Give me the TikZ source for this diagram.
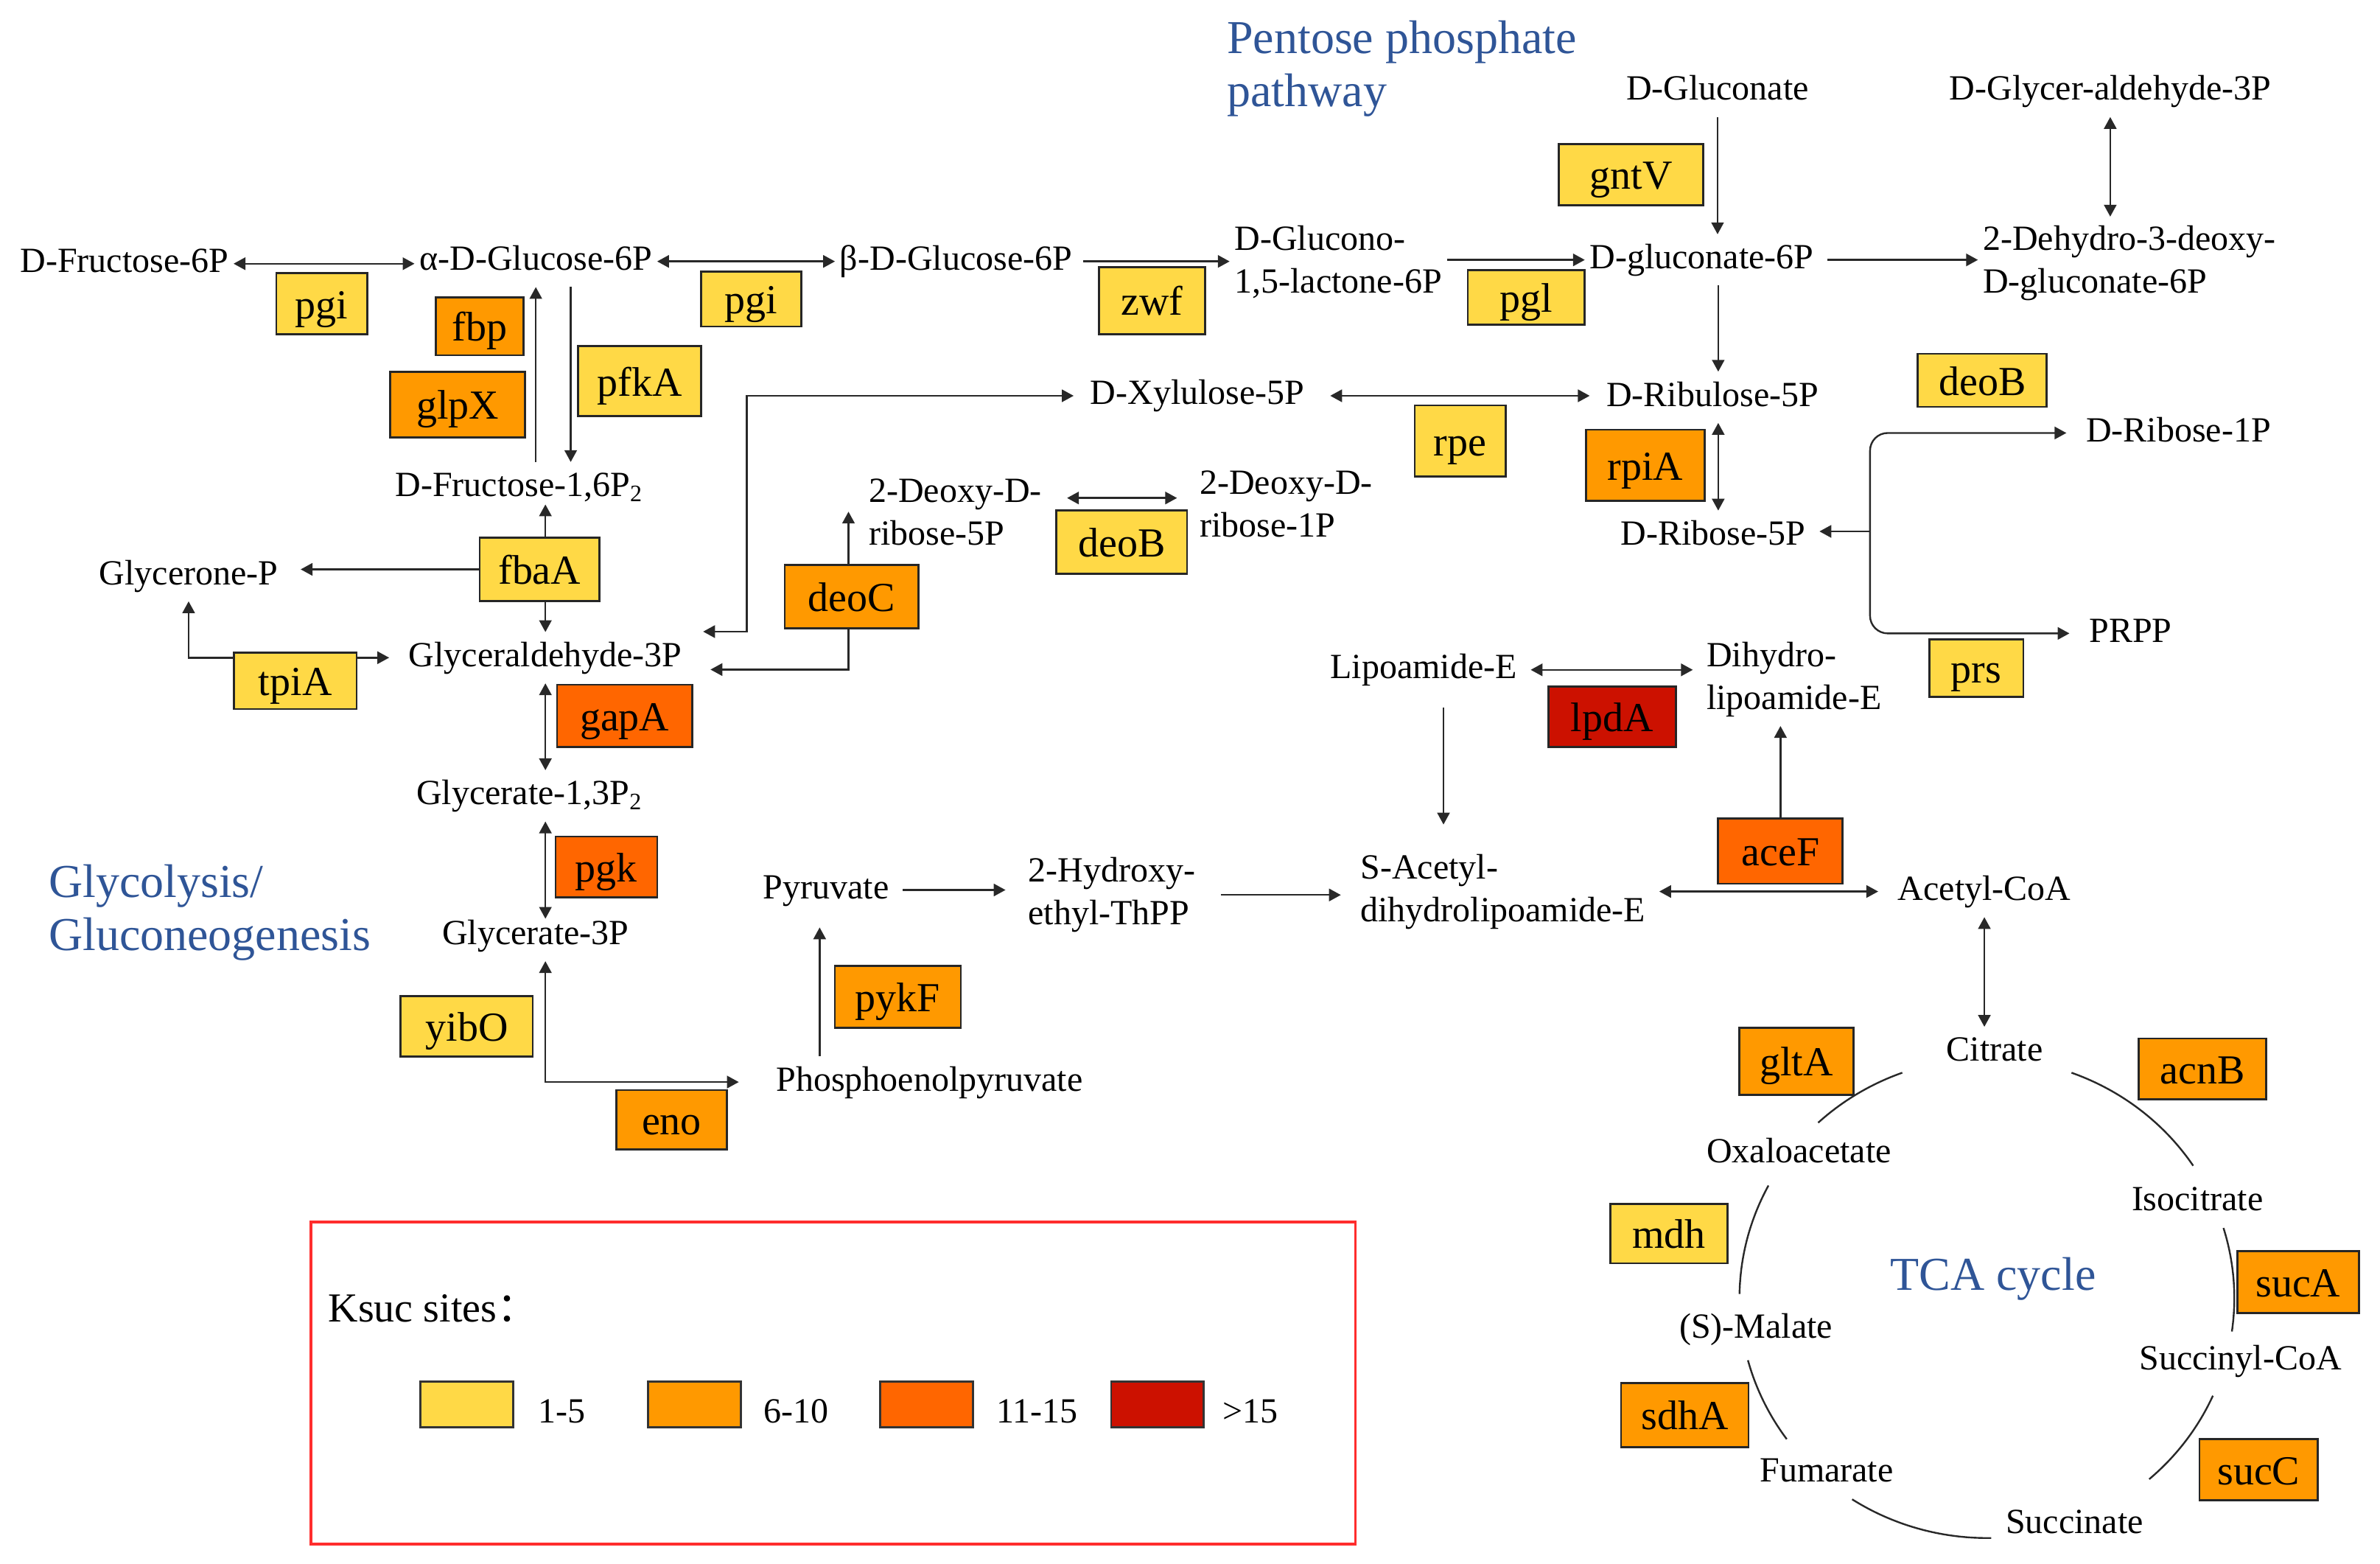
\documentclass[tikz,border=0pt]{standalone}
\usepackage{fontspec}
\setmainfont{Liberation Serif}
\newfontfamily\cjk{Noto Sans CJK SC}
\usetikzlibrary{arrows.meta,backgrounds}
\definecolor{cY}{RGB}{255,217,70}
\definecolor{cO}{RGB}{255,153,0}
\definecolor{cD}{RGB}{255,102,0}
\definecolor{cR}{RGB}{204,17,0}
\definecolor{tblue}{RGB}{47,85,151}
\definecolor{lnc}{RGB}{40,40,40}
\definecolor{legred}{RGB}{255,45,45}
\begin{document}
\begin{tikzpicture}[x=0.515pt,y=-0.515pt,
  >={Triangle[length=4pt,width=4.2pt]},
  met/.style={font=\fontsize{12}{14.4}\selectfont, inner xsep=1.5pt, inner ysep=3pt, text height=8.5pt, text depth=2.5pt, anchor=base west, xshift=-1.5pt},
  metm/.style={font=\fontsize{12}{14.4}\selectfont, inner xsep=1.5pt, inner ysep=3pt, align=left, anchor=base west, xshift=-1.5pt},
  ttl/.style={font=\fontsize{16}{18}\selectfont, text=tblue, align=left, anchor=base west, inner sep=0pt},
  enz/.style n args={3}{draw=black!85, line width=0.7pt, fill=#1, minimum width=#2*0.515pt, minimum height=#3*0.515pt, inner sep=0pt, font=\fontsize{14}{16}\selectfont, text height=10pt, text depth=0pt},
  swatch/.style={draw=black!80, line width=0.7pt, minimum width=61*0.515pt, minimum height=30*0.515pt, inner sep=0pt},
  conn/.style={draw=lnc, line width=0.6pt},
  tca/.style={draw=lnc, line width=0.6pt}
]
\useasboundingbox (0,0) rectangle (1568,1030);

% titles (base = last line)
\node[ttl] (ppp) at (808,70) {Pentose phosphate\\pathway};
\node[ttl] (glyc) at (31.7,626) {Glycolysis/\\Gluconeogenesis};
\node[ttl] (tcat) at (1245,850) {TCA cycle};

% metabolites
\node[met] (fru6p) at (13,179.5) {D-Fructose-6P};
\node[met] (aglc6p) at (276,178) {α-D-Glucose-6P};
\node[met] (bglc6p) at (553,178) {β-D-Glucose-6P};
\node[metm] (glucono) at (813,193) {D-Glucono-\\1,5-lactone-6P};
\node[met] (glcn6p) at (1047,177) {D-gluconate-6P};
\node[met] (glcn) at (1071,66) {D-Gluconate};
\node[met] (gap2) at (1284,66) {D-Glycer-aldehyde-3P};
\node[metm] (kdpg) at (1306,193) {2-Dehydro-3-deoxy-\\D-gluconate-6P};
\node[met] (xyl5p) at (718,266.5) {D-Xylulose-5P};
\node[met] (ribu5p) at (1058,267.5) {D-Ribulose-5P};
\node[met] (rib1p) at (1374,291) {D-Ribose-1P};
\node[met] (rib5p) at (1067.5,359) {D-Ribose-5P};
\node[met] (prpp) at (1376,423) {PRPP};
\node[met] (fru16p) at (260,327) {D-Fructose-1,6P\textsubscript{2}};
\node[metm] (dr5p) at (572,359) {2-Deoxy-D-\\ribose-5P};
\node[metm] (dr1p) at (790,353.5) {2-Deoxy-D-\\ribose-1P};
\node[met] (glyp) at (65,385) {Glycerone-P};
\node[met] (gap) at (269,439) {Glyceraldehyde-3P};
\node[met] (bpg) at (274,530) {Glycerate-1,3P\textsubscript{2}};
\node[met] (g3p) at (291,622) {Glycerate-3P};
\node[met] (pyr) at (502.5,592) {Pyruvate};
\node[metm] (hethpp) at (677,609) {2-Hydroxy-\\ethyl-ThPP};
\node[metm] (sacet) at (896,607) {S-Acetyl-\\dihydrolipoamide-E};
\node[met] (lipo) at (876,447) {Lipoamide-E};
\node[metm] (dhlipo) at (1124,467) {Dihydro-\\lipoamide-E};
\node[met] (accoa) at (1250,593) {Acetyl-CoA};
\node[met] (pep) at (511,718.5) {Phosphoenolpyruvate};
\node[met] (citrate) at (1282,699) {Citrate};
\node[met] (oaa) at (1124,766) {Oxaloacetate};
\node[met] (isocit) at (1404,797.5) {Isocitrate};
\node[met] (malate) at (1106,881.5) {(S)-Malate};
\node[met] (succoa) at (1409,902) {Succinyl-CoA};
\node[met] (fum) at (1159,976) {Fumarate};
\node[met] (succ) at (1321,1010) {Succinate};

% enzymes
\node[enz={cY}{60}{40}] (pgiL) at (212,200) {pgi};
\node[enz={cO}{58}{38}] (fbp) at (316,215) {fbp};
\node[enz={cO}{89}{43}] (glpX) at (301.5,266.5) {glpX};
\node[enz={cY}{81}{46}] (pfkA) at (421.5,251) {pfkA};
\node[enz={cY}{66}{36}] (pgiR) at (495,197) {pgi};
\node[enz={cY}{70}{44}] (zwf) at (759,198) {zwf};
\node[enz={cY}{77}{36}] (pgl) at (1005.5,196) {pgl};
\node[enz={cY}{95}{40}] (gntV) at (1074.5,115) {gntV};
\node[enz={cY}{85}{35}] (deoBa) at (1306,250.5) {deoB};
\node[enz={cY}{60}{47}] (rpe) at (962,290.5) {rpe};
\node[enz={cO}{78}{47}] (rpiA) at (1084,306.5) {rpiA};
\node[enz={cY}{79}{42}] (fbaA) at (355.5,375) {fbaA};
\node[enz={cO}{88}{42}] (deoC) at (561,393) {deoC};
\node[enz={cY}{86}{42}] (deoBb) at (739,357) {deoB};
\node[enz={cY}{81}{37}] (tpiA) at (194.5,448.5) {tpiA};
\node[enz={cD}{89}{41}] (gapA) at (411.5,471.5) {gapA};
\node[enz={cD}{67}{40}] (pgk) at (399.5,571) {pgk};
\node[enz={cY}{87}{40}] (yibO) at (307.5,676) {yibO};
\node[enz={cO}{73}{39}] (eno) at (442.5,737.5) {eno};
\node[enz={cO}{83}{41}] (pykF) at (591.5,656.5) {pykF};
\node[enz={cR}{84}{40}] (lpdA) at (1062,472) {lpdA};
\node[enz={cY}{62}{38}] (prs) at (1302,440) {prs};
\node[enz={cD}{82}{43}] (aceF) at (1173,560.5) {aceF};
\node[enz={cO}{75}{44}] (gltA) at (1183.5,699) {gltA};
\node[enz={cO}{84}{40}] (acnB) at (1451,704) {acnB};
\node[enz={cY}{77}{39}] (mdh) at (1099.5,812.5) {mdh};
\node[enz={cO}{80}{41}] (sucA) at (1514,844.5) {sucA};
\node[enz={cO}{84}{42}] (sdhA) at (1110,932) {sdhA};
\node[enz={cO}{78}{40}] (sucC) at (1488,968) {sucC};

% legend
\node[draw=legred, line width=0.9pt, minimum width=688*0.515pt, minimum height=212*0.515pt, inner sep=0pt] (legend) at (549,911) {};
\node[font=\fontsize{14}{16}\selectfont, anchor=base west, inner sep=0pt] (ksuc) at (216,870.5) {Ksuc sites{\cjk ：}};
\node[swatch, fill=cY] (sw1) at (307.5,925) {};
\node[swatch, fill=cO] (sw2) at (457.5,925) {};
\node[swatch, fill=cD] (sw3) at (610.5,925) {};
\node[swatch, fill=cR] (sw4) at (762.5,925) {};
\node[met] (lb1) at (354,937) {1-5};
\node[met] (lb2) at (503,937) {6-10};
\node[met] (lb3) at (656,937) {11-15};
\node[met] (lb4) at (805,937) {>15};

% helper coordinates
\coordinate (fbpx) at (353,0);
\coordinate (pfkx) at (376,0);
\coordinate (ribx) at (1132,0);
\coordinate (kx) at (492,416);
\coordinate (dctip) at (559,337);
\coordinate (dccorner) at (559,441);
\coordinate (drA) at (703,328);
\coordinate (pykx) at (540,0);
\coordinate (lipx) at (951,0);
\coordinate (rbx) at (1232,350);

\begin{scope}[on background layer]
\draw[conn,<->] (fru6p.east) -- (fru6p.east -| aglc6p.west);
\draw[conn,<->] (aglc6p.east) -- (aglc6p.east -| bglc6p.west);
\draw[conn,->, shorten <=2pt] (bglc6p.east) -- (bglc6p.east -| glucono.west);
\draw[conn,->] (glucono.east |- glcn6p.west) -- (glcn6p.west);
\draw[conn,->] (glcn.south) -- (glcn.south |- glcn6p.north);
\draw[conn,->, shorten <=3pt] (glcn6p.east) -- (glcn6p.east -| kdpg.west);
\draw[conn,<->] (gap2.south) -- (gap2.south |- kdpg.north);
\draw[conn,->] (glcn6p.south -| ribx) -- (ribu5p.north -| ribx);
\draw[conn,<->] (ribu5p.south -| ribx) -- (rib5p.north -| ribx);
\draw[conn,<->, shorten <=7pt, shorten >=4pt] (xyl5p.east) -- (xyl5p.east -| ribu5p.west);
\draw[conn,<->, shorten <=5.5pt, shorten >=4pt] (gap.east |- kx) -- (kx) |- (xyl5p.west);
\draw[conn,<->, shorten >=8pt] (dctip) -- (dccorner) -- (dccorner -| gap.east);
\draw[conn,<->, shorten >=6pt] (drA) -- (drA -| dr1p.west);
\draw[conn,->] (fru16p.north -| fbpx) -- (aglc6p.south -| fbpx);
\draw[conn,->] (aglc6p.south -| pfkx) -- (fru16p.north -| pfkx);
\draw[conn,<->, shorten <=-3pt] (fru16p.south -| gap) -- (gap.north);
\draw[conn,->, shorten >=6pt] (fbaA) -- (fbaA -| glyp.east);
\draw[conn,<->, shorten >=5pt] (glyp.south) |- (gap.west);
\draw[conn,<->] (gap.south) -- (gap.south |- bpg.north);
\draw[conn,<->, shorten >=-3pt] (bpg.south -| gap) -- (g3p.north -| gap);
\draw[conn,<->, shorten >=11pt] (g3p.south -| gap) |- (pep.west);
\draw[conn,->, shorten >=4pt] (pep.north -| pykx) -- (pyr.south -| pykx);
\draw[conn,->, shorten <=3pt, shorten >=6pt] (pyr.east) -- (pyr.east -| hethpp.west);
\draw[conn,->, shorten <=7pt, shorten >=5pt] (hethpp.east) -- (hethpp.east -| sacet.west);
\draw[conn,->, shorten <=4pt, shorten >=7pt] (lipo.south -| lipx) -- (sacet.north -| lipx);
\draw[conn,<->, shorten <=3pt, shorten >=3pt] (lipo.east) -- (lipo.east -| dhlipo.west);
\draw[conn,->] (aceF.north) -- (aceF.north |- dhlipo.south);
\draw[conn,<->, shorten <=3pt, shorten >=5pt] (accoa.west -| sacet.east) -- (accoa.west);
\draw[conn,<->] (accoa.south) -- (accoa.south |- citrate.north);
\draw[conn,->, rounded corners=6pt, shorten >=5pt] (rbx) |- (rib1p.west);
\draw[conn,->, rounded corners=6pt, shorten >=5pt] (rbx) |- (prpp.west);
\draw[conn,->, shorten >=3pt] (rbx) -- (rbx -| rib5p.east);
% TCA cycle arcs
\draw[tca] plot[domain=33.5:70, samples=40] ({1309+163*cos(\x)},{855-158*sin(\x)});
\draw[tca] plot[domain=-8:17, samples=30] ({1309+163*cos(\x)},{855-158*sin(\x)});
\draw[tca] plot[domain=-49:-24, samples=30] ({1309+163*cos(\x)},{855-158*sin(\x)});
\draw[tca] plot[domain=-123:-89, samples=40] ({1309+163*cos(\x)},{855-158*sin(\x)});
\draw[tca] plot[domain=-165:-144, samples=30] ({1309+163*cos(\x)},{855-158*sin(\x)});
\draw[tca] plot[domain=152:179, samples=30] ({1309+163*cos(\x)},{855-158*sin(\x)});
\draw[tca] plot[domain=110:133, samples=30] ({1309+163*cos(\x)},{855-158*sin(\x)});
\end{scope}
\end{tikzpicture}
\end{document}
